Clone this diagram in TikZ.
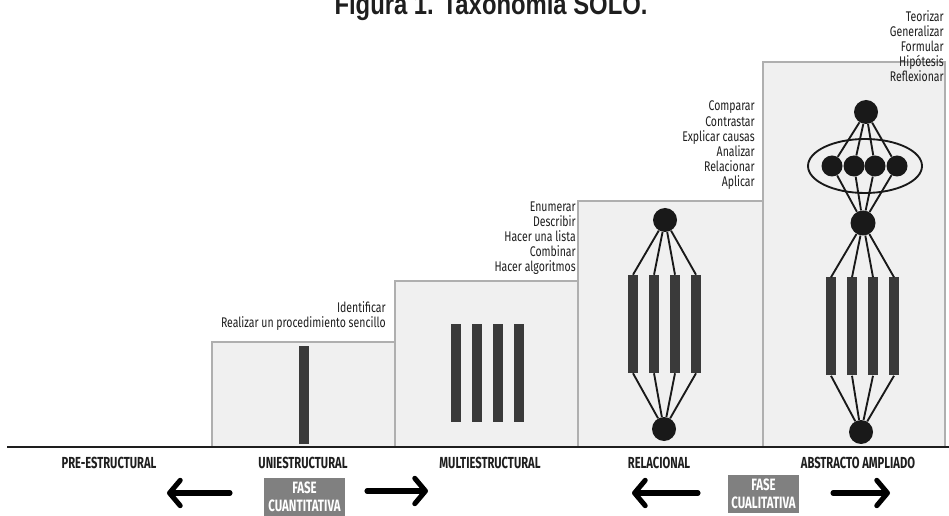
\documentclass[tikz,border=0pt]{standalone}
\usepackage{fontspec}
\usepackage{tikz}
\usetikzlibrary{arrows.meta}
\newfontfamily\titlefont[FakeStretch=0.82]{Liberation Sans}
\newfontfamily\verbfont[FakeStretch=0.75]{Fira Sans}
\newfontfamily\levelfont[FakeStretch=0.7]{Fira Sans}
\definecolor{boxfill}{RGB}{240,240,240}
\definecolor{boxline}{RGB}{175,175,175}
\definecolor{barcol}{RGB}{58,58,58}
\definecolor{dotcol}{RGB}{25,25,25}
\definecolor{fasecol}{RGB}{128,128,128}
\definecolor{inkcol}{RGB}{30,30,30}
\tikzset{
  levelbox/.style={draw=boxline, fill=boxfill, line width=1.1pt},
  bar/.style={fill=barcol, inner sep=0pt, minimum width=7.9pt, minimum height=73.5pt},
  dot/.style={circle, fill=dotcol, inner sep=0pt, minimum size=#1},
  dot/.default=18pt,
  link/.style={draw=dotcol, line width=1.4pt},
  verbs/.style={font=\verbfont\fontsize{10.5}{11.4}\selectfont, text=inkcol, align=right, anchor=base east, inner sep=0pt},
  level/.style={font=\levelfont\bfseries\fontsize{12}{12}\selectfont, text=inkcol, anchor=base, inner sep=0pt},
  fase/.style={fill=fasecol, text=white, font=\levelfont\bfseries\fontsize{12.3}{13.9}\selectfont, align=center, inner sep=0pt, minimum height=28.5pt},
  bigarrow/.style={draw=black, line width=3.8pt, line cap=round, -{Straight Barb[length=8pt,width=19pt,round]}},
}
\begin{document}
\begin{tikzpicture}[x=0.75pt,y=0.75pt,yscale=-1,xscale=1]
\useasboundingbox (0,0) rectangle (949,516);

% Text Node
\node[font=\titlefont\bfseries\fontsize{21.8}{22}\selectfont, text=inkcol, anchor=base, inner sep=0pt] (title) at (491,15) {Figura 1. Taxonomía SOLO.};

%Shape: Rectangle
\draw[levelbox] (212,342) rectangle (395,447);
\draw[levelbox] (395,281) rectangle (579,447);
\draw[levelbox] (578,201) rectangle (763,447);
\draw[levelbox] (763,62) rectangle (945,447);
%Straight Lines
\draw[draw=inkcol, line width=2.2pt] (7,447) -- (949,447);

%Uniestructural
\node[bar] (u1) at (304,395) {};
%Multiestructural
\foreach \i/\x in {1/456,2/477,3/498,4/519}
  \node[bar] (m\i) at (\x,373) {};
%Relacional
\node[dot] (rtop) at (665,220) {};
\node[dot] (rbot) at (664,429) {};
\foreach \i/\x in {1/633,2/654,3/675,4/696} {
  \node[bar] (r\i) at (\x,324) {};
  \draw[link] (rtop) -- (r\i.north);
  \draw[link] (r\i.south) -- (rbot);
}
%Abstracto ampliado
\node[dot] (atop) at (866,112) {};
\node[dot=18.75pt] (amid) at (863,223) {};
\node[dot] (abot) at (861,432) {};
\draw[link] (865,166) ellipse [x radius=57, y radius=27];
\foreach \i/\x in {1/832,2/854,3/875,4/897} {
  \node[dot=15.75pt] (s\i) at (\x,166) {};
  \draw[link] (atop) -- (s\i);
  \draw[link] (s\i) -- (amid);
}
\foreach \i/\x in {1/831,2/852,3/873,4/894} {
  \node[bar] (a\i) at (\x,326.5) {};
  \draw[link] (amid) -- (a\i.north);
  \draw[link] (a\i.south) -- (abot);
}

% Text Node
\node[verbs] (uverbs) at (386,328) {Identificar\\Realizar un procedimiento sencillo};
% Text Node
\node[verbs] (mverbs) at (576,272) {Enumerar\\Describir\\Hacer una lista\\Combinar\\Hacer algoritmos};
% Text Node
\node[verbs] (rverbs) at (755,187) {Comparar\\Contrastar\\Explicar causas\\Analizar\\Relacionar\\Aplicar};
% Text Node
\node[verbs] (averbs) at (944,82) {Teorizar\\Generalizar\\Formular\\Hipótesis\\Reflexionar};

% Text Node
\node[level] (pre) at (109,468) {PRE-ESTRUCTURAL};
\node[level] (uni) at (303,468) {UNIESTRUCTURAL};
\node[level] (multi) at (490,468) {MULTIESTRUCTURAL};
\node[level] (rel) at (659,468) {RELACIONAL};
\node[level] (abs) at (858,468) {ABSTRACTO AMPLIADO};

%Fases
\node[fase, minimum width=60.75pt] (cuan) at (304.5,497) {FASE\\CUANTITATIVA};
\node[fase, minimum width=53.25pt] (cual) at (763.5,494) {FASE\\CUALITATIVA};
\coordinate (cuanLtail) at (230,493);
\coordinate (cuanLtip) at (167,493);
\coordinate (cuanRtail) at (367,491);
\coordinate (cuanRtip) at (428,491);
\coordinate (cualLtail) at (698,493);
\coordinate (cualLtip) at (632,493);
\coordinate (cualRtail) at (833,493);
\coordinate (cualRtip) at (890,493);
\draw[bigarrow] (cuanLtail) -- (cuanLtip);
\draw[bigarrow] (cuanRtail) -- (cuanRtip);
\draw[bigarrow] (cualLtail) -- (cualLtip);
\draw[bigarrow] (cualRtail) -- (cualRtip);

\end{tikzpicture}
\end{document}
